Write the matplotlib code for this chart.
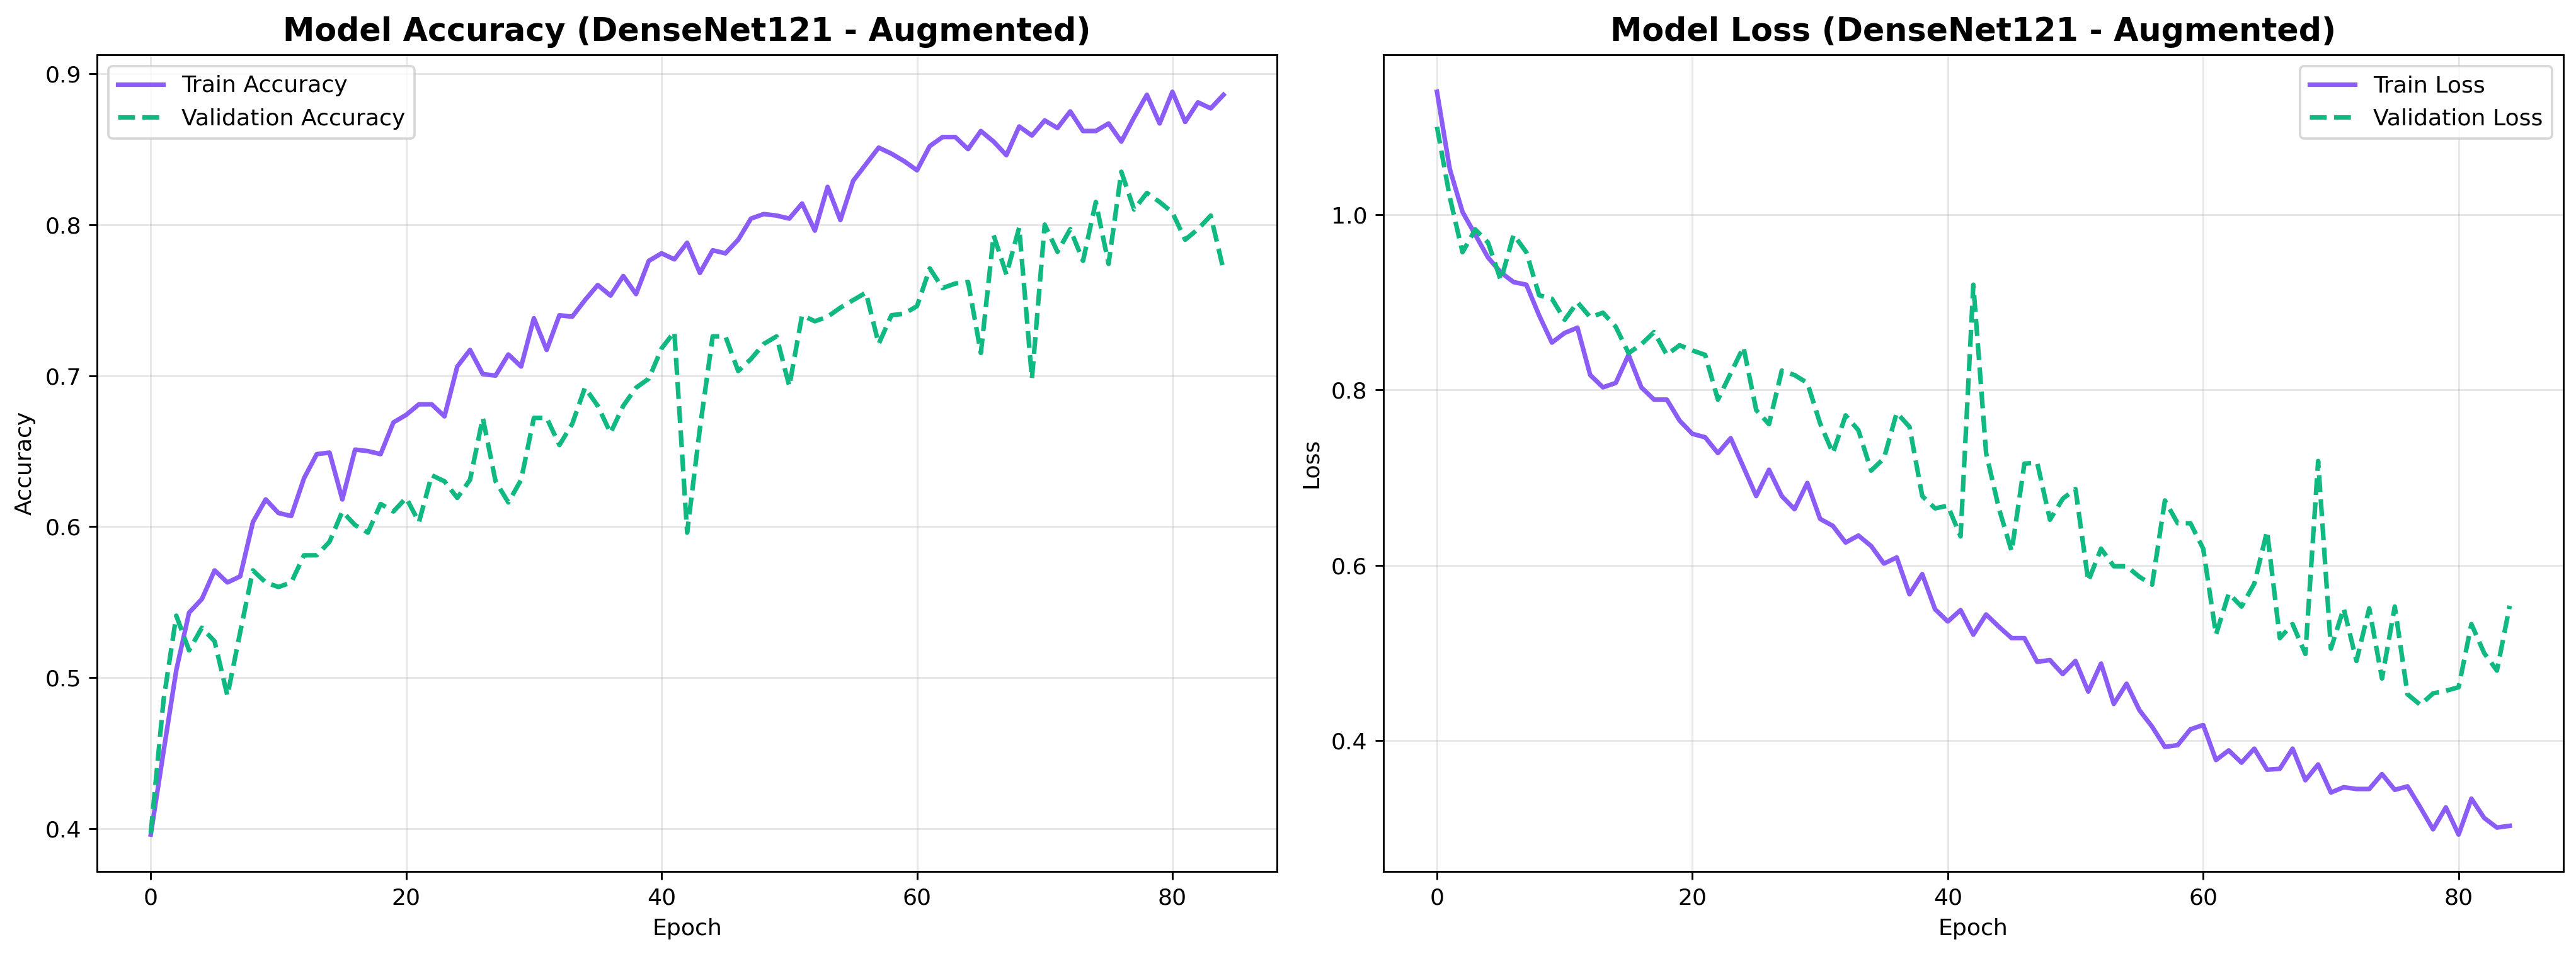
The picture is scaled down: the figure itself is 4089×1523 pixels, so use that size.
import numpy as np
import matplotlib
matplotlib.use("Agg")
import matplotlib.pyplot as plt

# values, epochs 0..84
train_acc = [0.396, 0.451, 0.505, 0.543, 0.552, 0.571, 0.563, 0.567, 0.603, 0.618,
             0.609, 0.607, 0.632, 0.648, 0.649, 0.618, 0.651, 0.650, 0.648, 0.669,
             0.674, 0.681, 0.681, 0.673, 0.706, 0.717, 0.701, 0.700, 0.714, 0.706,
             0.738, 0.717, 0.740, 0.739, 0.750, 0.760, 0.753, 0.766, 0.754, 0.776,
             0.781, 0.777, 0.788, 0.768, 0.783, 0.781, 0.790, 0.804, 0.807, 0.806,
             0.804, 0.814, 0.796, 0.825, 0.803, 0.829, 0.840, 0.851, 0.847, 0.842,
             0.836, 0.852, 0.858, 0.858, 0.850, 0.862, 0.855, 0.846, 0.865, 0.859,
             0.869, 0.864, 0.875, 0.862, 0.862, 0.867, 0.855, 0.871, 0.886, 0.867,
             0.888, 0.868, 0.881, 0.877, 0.886]
val_acc = [0.397, 0.485, 0.541, 0.518, 0.533, 0.524, 0.488, 0.530, 0.571, 0.563,
           0.560, 0.563, 0.581, 0.581, 0.590, 0.610, 0.601, 0.596, 0.615, 0.610,
           0.619, 0.603, 0.634, 0.630, 0.619, 0.631, 0.672, 0.630, 0.616, 0.631,
           0.672, 0.672, 0.654, 0.668, 0.692, 0.680, 0.662, 0.680, 0.692, 0.698,
           0.718, 0.729, 0.596, 0.665, 0.726, 0.726, 0.703, 0.711, 0.721, 0.726,
           0.693, 0.740, 0.736, 0.739, 0.745, 0.750, 0.755, 0.721, 0.740, 0.741,
           0.746, 0.771, 0.758, 0.761, 0.762, 0.715, 0.793, 0.767, 0.798, 0.698,
           0.800, 0.782, 0.797, 0.776, 0.815, 0.774, 0.835, 0.810, 0.821, 0.815,
           0.808, 0.790, 0.797, 0.806, 0.770]
train_loss = [1.140, 1.052, 1.003, 0.977, 0.951, 0.934, 0.923, 0.920, 0.885, 0.854,
              0.865, 0.871, 0.817, 0.803, 0.808, 0.840, 0.803, 0.789, 0.789, 0.765,
              0.750, 0.746, 0.728, 0.745, 0.712, 0.679, 0.709, 0.679, 0.664, 0.694,
              0.653, 0.645, 0.626, 0.634, 0.622, 0.602, 0.609, 0.567, 0.590, 0.550,
              0.536, 0.549, 0.521, 0.544, 0.530, 0.517, 0.517, 0.490, 0.492, 0.476,
              0.491, 0.456, 0.488, 0.442, 0.465, 0.435, 0.416, 0.393, 0.395, 0.413,
              0.418, 0.378, 0.389, 0.375, 0.391, 0.367, 0.368, 0.391, 0.355, 0.373,
              0.341, 0.347, 0.345, 0.345, 0.362, 0.344, 0.348, 0.324, 0.299, 0.324,
              0.293, 0.334, 0.312, 0.301, 0.303]
val_loss = [1.100, 1.020, 0.957, 0.983, 0.968, 0.925, 0.977, 0.957, 0.908, 0.904,
            0.880, 0.900, 0.883, 0.888, 0.872, 0.842, 0.852, 0.866, 0.840, 0.851,
            0.845, 0.840, 0.789, 0.819, 0.849, 0.777, 0.761, 0.822, 0.817, 0.808,
            0.762, 0.728, 0.771, 0.754, 0.708, 0.722, 0.774, 0.758, 0.679, 0.665,
            0.668, 0.633, 0.920, 0.728, 0.665, 0.616, 0.716, 0.717, 0.652, 0.676,
            0.687, 0.582, 0.619, 0.599, 0.599, 0.587, 0.578, 0.674, 0.648, 0.648,
            0.619, 0.521, 0.568, 0.553, 0.579, 0.639, 0.517, 0.533, 0.499, 0.719,
            0.505, 0.551, 0.491, 0.551, 0.471, 0.553, 0.453, 0.441, 0.454, 0.457,
            0.461, 0.533, 0.500, 0.480, 0.554]

epochs = np.arange(len(train_acc))

train_color = '#8B5CF6'
val_color = '#10B981'

fig, (ax1, ax2) = plt.subplots(1, 2, figsize=(15.68, 5.84))
fig.subplots_adjust(left=0.0377, right=0.995, bottom=0.091, top=0.943, wspace=0.09)

# Accuracy
ax1.plot(epochs, train_acc, label='Train Accuracy', color=train_color, linewidth=2)
ax1.plot(epochs, val_acc, label='Validation Accuracy', color=val_color, linewidth=2, linestyle='--')
ax1.set_title('Model Accuracy (DenseNet121 - Augmented)', fontsize=14, fontweight='bold')
ax1.set_xlabel('Epoch')
ax1.set_ylabel('Accuracy')
ax1.legend(loc='upper left')
ax1.grid(True, alpha=0.3)

# Loss
ax2.plot(epochs, train_loss, label='Train Loss', color=train_color, linewidth=2)
ax2.plot(epochs, val_loss, label='Validation Loss', color=val_color, linewidth=2, linestyle='--')
ax2.set_title('Model Loss (DenseNet121 - Augmented)', fontsize=14, fontweight='bold')
ax2.set_xlabel('Epoch')
ax2.set_ylabel('Loss')
ax2.legend(loc='upper right')
ax2.grid(True, alpha=0.3)

plt.savefig('out.png', dpi=260.8)
plt.close()
